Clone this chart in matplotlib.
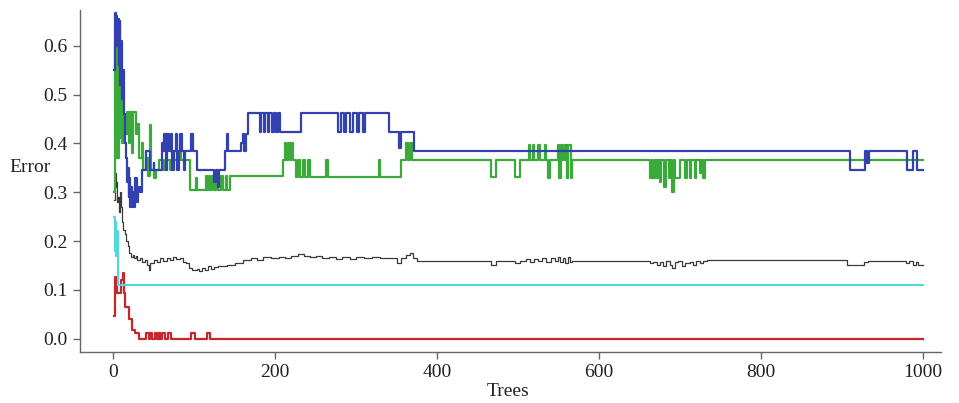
import matplotlib
matplotlib.use("Agg")
from matplotlib import pyplot as plt

# breakpoints of each error curve (tree number, error), held until next break
oob_trees = [1, 2, 3, 4, 5, 6, 7, 9, 10, 11, 12, 14, 16, 18, 20, 22, 24, 26,
             28, 30, 33, 36, 39, 42, 44, 46, 50, 54, 58, 62, 66, 70, 74, 78,
             82, 86, 90, 94, 97, 103, 106, 110, 113, 117, 121, 125, 130, 140,
             150, 160, 170, 178, 185, 195, 205, 212, 220, 228, 236, 243, 250,
             258, 266, 275, 283, 292, 300, 310, 320, 330, 340, 350, 355, 362,
             366, 370, 375, 467, 473, 496, 502, 510, 515, 520, 525, 530, 535,
             540, 545, 549, 552, 555, 558, 561, 564, 567, 663, 667, 671, 675,
             679, 683, 687, 690, 694, 698, 702, 706, 712, 716, 720, 724, 728,
             733, 906, 927, 932, 979, 983, 987, 991, 994, 1000]
oob_err = [0.284, 0.34, 0.31, 0.32, 0.28, 0.29, 0.26, 0.30, 0.27, 0.24, 0.223,
           0.215, 0.20, 0.19, 0.175, 0.168, 0.172, 0.165, 0.17, 0.162, 0.165,
           0.158, 0.162, 0.152, 0.141, 0.155, 0.162, 0.158, 0.165, 0.16,
           0.166, 0.162, 0.168, 0.163, 0.165, 0.158, 0.155, 0.145, 0.14,
           0.143, 0.138, 0.145, 0.14, 0.148, 0.143, 0.146, 0.15, 0.152, 0.155,
           0.162, 0.165, 0.162, 0.168, 0.165, 0.168, 0.165, 0.17, 0.174, 0.17,
           0.167, 0.17, 0.165, 0.168, 0.164, 0.167, 0.164, 0.168, 0.166,
           0.168, 0.165, 0.166, 0.155, 0.165, 0.172, 0.175, 0.165, 0.160,
           0.151, 0.160, 0.155, 0.160, 0.163, 0.158, 0.163, 0.160, 0.165,
           0.158, 0.165, 0.160, 0.168, 0.158, 0.166, 0.155, 0.168, 0.157,
           0.160, 0.155, 0.158, 0.152, 0.157, 0.15, 0.16, 0.152, 0.145, 0.157,
           0.16, 0.15, 0.155, 0.157, 0.152, 0.16, 0.155, 0.16, 0.162, 0.151,
           0.157, 0.160, 0.155, 0.16, 0.152, 0.157, 0.151, 0.151]

red_trees = [1, 2, 4, 5, 10, 12, 13, 15, 20, 23, 27, 32, 41, 44, 46, 48, 52,
             54, 56, 58, 60, 64, 68, 72, 96, 101, 116, 120, 1000]
red_err = [0.046, 0.127, 0.107, 0.094, 0.12, 0.135, 0.094, 0.066, 0.04, 0.018,
           0.012, 0.0, 0.012, 0.0, 0.012, 0.0, 0.012, 0.0, 0.012, 0.0, 0.012,
           0.0, 0.012, 0.0, 0.012, 0.0, 0.012, 0.0, 0.0]

green_trees = [1, 2, 3, 4, 5, 7, 8, 9, 11, 13, 15, 17, 19, 21, 23, 25, 28, 30,
               32, 35, 37, 40, 43, 46, 47, 50, 53, 57, 62, 64, 70, 72, 82, 84,
               95, 102, 104, 114, 116, 118, 120, 122, 125, 127, 130, 133, 136,
               139, 141, 144, 210, 212, 214, 216, 218, 220, 222, 226, 228, 231,
               234, 237, 240, 243, 248, 263, 265, 328, 330, 356, 362, 364, 366,
               369, 467, 473, 496, 502, 513, 515, 518, 520, 525, 527, 533, 535,
               537, 539, 549, 551, 553, 556, 558, 560, 562, 565, 567, 663, 665,
               667, 669, 671, 673, 675, 677, 680, 682, 686, 688, 690, 692, 694,
               700, 706, 708, 712, 714, 718, 720, 724, 726, 728, 731, 1000]
green_err = [0.30, 0.60, 0.55, 0.60, 0.37, 0.57, 0.41, 0.535, 0.40, 0.46, 0.42,
             0.464, 0.40, 0.464, 0.38, 0.464, 0.42, 0.44, 0.37, 0.40, 0.345,
             0.37, 0.333, 0.437, 0.345, 0.33, 0.345, 0.366, 0.345, 0.366,
             0.345, 0.366, 0.40, 0.366, 0.305, 0.33, 0.305, 0.333, 0.305,
             0.333, 0.305, 0.333, 0.305, 0.333, 0.305, 0.333, 0.305, 0.333,
             0.305, 0.333, 0.366, 0.40, 0.366, 0.40, 0.366, 0.40, 0.366, 0.332,
             0.366, 0.332, 0.366, 0.332, 0.366, 0.332, 0.332, 0.366, 0.332,
             0.366, 0.332, 0.366, 0.40, 0.366, 0.40, 0.366, 0.332, 0.366,
             0.332, 0.366, 0.397, 0.366, 0.397, 0.366, 0.397, 0.366, 0.397,
             0.366, 0.33, 0.366, 0.397, 0.33, 0.397, 0.366, 0.397, 0.33, 0.397,
             0.33, 0.366, 0.33, 0.366, 0.33, 0.366, 0.33, 0.366, 0.32, 0.366,
             0.31, 0.366, 0.33, 0.366, 0.30, 0.366, 0.33, 0.366, 0.33, 0.366,
             0.33, 0.366, 0.33, 0.366, 0.34, 0.366, 0.33, 0.366, 0.366]

blue_trees = [1, 2, 3, 4, 5, 6, 7, 8, 9, 10, 11, 12, 13, 14, 15, 16, 17, 18,
              19, 20, 21, 22, 23, 24, 26, 27, 29, 31, 33, 35, 41, 46, 50, 51,
              60, 62, 63, 65, 67, 69, 71, 73, 75, 77, 79, 81, 83, 85, 87, 89,
              96, 98, 103, 125, 127, 129, 131, 138, 141, 142, 158, 160, 162,
              164, 166, 181, 183, 186, 188, 191, 193, 196, 198, 201, 203, 206,
              232, 277, 281, 285, 288, 293, 296, 301, 304, 308, 311, 341, 353,
              355, 371, 910, 928, 931, 933, 980, 987, 992, 1000]
blue_err = [0.55, 0.667, 0.60, 0.66, 0.60, 0.655, 0.56, 0.65, 0.52, 0.61, 0.49,
            0.55, 0.46, 0.42, 0.40, 0.37, 0.32, 0.35, 0.29, 0.33, 0.27, 0.31,
            0.27, 0.30, 0.27, 0.33, 0.28, 0.31, 0.30, 0.346, 0.384, 0.346,
            0.36, 0.346, 0.40, 0.384, 0.42, 0.346, 0.42, 0.384, 0.42, 0.346,
            0.384, 0.42, 0.346, 0.384, 0.42, 0.384, 0.346, 0.384, 0.42, 0.384,
            0.346, 0.32, 0.346, 0.31, 0.346, 0.384, 0.42, 0.384, 0.40, 0.42,
            0.384, 0.42, 0.462, 0.423, 0.462, 0.423, 0.462, 0.423, 0.462,
            0.423, 0.462, 0.423, 0.462, 0.423, 0.462, 0.423, 0.462, 0.423,
            0.462, 0.423, 0.462, 0.423, 0.462, 0.423, 0.462, 0.423, 0.39,
            0.423, 0.384, 0.346, 0.384, 0.36, 0.384, 0.346, 0.384, 0.346,
            0.346]

cyan_trees = [1, 2, 3, 4, 5, 6, 1000]
cyan_err = [0.25, 0.18, 0.24, 0.17, 0.22, 0.11, 0.11]

x_ticks = [0, 200, 400, 600, 800, 1000]
y_ticks = [0.0, 0.1, 0.2, 0.3, 0.4, 0.5, 0.6]

plt.rcParams['font.family'] = ['Liberation Serif', 'DejaVu Serif']

fig = plt.figure(figsize=(9.59, 4.03), dpi=100)
ax = fig.add_axes([0.0834, 0.1266, 0.8977, 0.8486])

ax.step(oob_trees, oob_err, where='post', color='#3a3a3a', lw=0.9)
ax.step(red_trees, red_err, where='post', color='#c4272c', lw=1.6)
ax.step(green_trees, green_err, where='post', color='#3aaa3a', lw=1.6)
ax.step(blue_trees, blue_err, where='post', color='#3340b0', lw=1.6)
ax.step(cyan_trees, cyan_err, where='post', color='#50d8dc', lw=1.5)

ax.set_xlim(-41, 1022)
ax.set_ylim(-0.027, 0.673)
ax.set_xticks(x_ticks)
ax.set_yticks(y_ticks)
ax.set_yticklabels(['%.1f' % v for v in y_ticks])

# only left and bottom axis lines
for side in ['top', 'right']:
    ax.spines[side].set_visible(False)
for side in ['left', 'bottom']:
    ax.spines[side].set_color('#666666')
    ax.spines[side].set_linewidth(1.0)
ax.tick_params(direction='out', length=5, width=1, color='#666666',
               labelsize=14, labelcolor='#222222', pad=4)

fig.text(0.031, 1 - 168 / 403, 'Error', ha='center', va='center',
         fontsize=14, color='#222222')
fig.text(0.53, 0.028, 'Trees', ha='center', va='center',
         fontsize=14, color='#222222')

plt.savefig('out.png', dpi=100)
